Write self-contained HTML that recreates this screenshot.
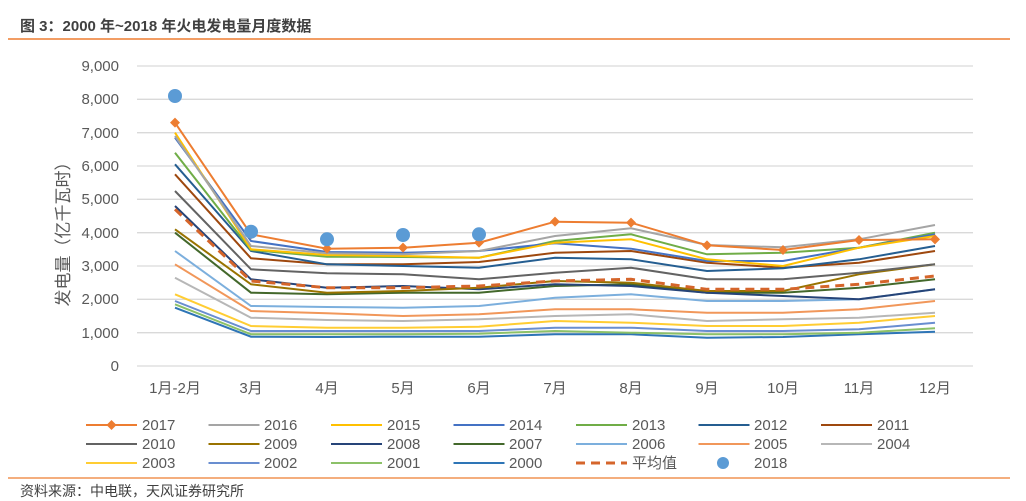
<!DOCTYPE html>
<html><head><meta charset="utf-8"><style>
body{margin:0;background:#fff;}
svg{display:block;font-family:"Liberation Sans","Noto Sans CJK SC",sans-serif;}
</style></head><body>
<svg id="s" width="1026" height="501" viewBox="0 0 1026 501">
<text x="20" y="31" font-size="15" font-weight="bold" fill="#404040">图 3：2000 年~2018 年火电发电量月度数据</text>
<line x1="8" y1="39" x2="1010" y2="39" stroke="#ED7D31" stroke-width="1.5"/>
<g stroke="#D9D9D9" stroke-width="1.3">
<line x1="137" x2="973" y1="66" y2="66"/><line x1="137" x2="973" y1="99.3" y2="99.3"/><line x1="137" x2="973" y1="132.7" y2="132.7"/><line x1="137" x2="973" y1="166" y2="166"/><line x1="137" x2="973" y1="199.3" y2="199.3"/><line x1="137" x2="973" y1="232.7" y2="232.7"/><line x1="137" x2="973" y1="266" y2="266"/><line x1="137" x2="973" y1="299.3" y2="299.3"/><line x1="137" x2="973" y1="332.7" y2="332.7"/><line x1="137" x2="973" y1="366" y2="366"/>
</g>
<g font-size="15" fill="#595959" text-anchor="end">
<text x="119" y="71">9,000</text><text x="119" y="104">8,000</text><text x="119" y="138">7,000</text><text x="119" y="171">6,000</text><text x="119" y="204">5,000</text><text x="119" y="238">4,000</text><text x="119" y="271">3,000</text><text x="119" y="304">2,000</text><text x="119" y="338">1,000</text><text x="119" y="371">0</text>
</g>
<g font-size="15" fill="#595959" text-anchor="middle">
<text x="175" y="393">1月-2月</text><text x="251" y="393">3月</text><text x="327" y="393">4月</text><text x="403" y="393">5月</text><text x="479" y="393">6月</text><text x="555" y="393">7月</text><text x="631" y="393">8月</text><text x="707" y="393">9月</text><text x="783" y="393">10月</text><text x="859" y="393">11月</text><text x="935" y="393">12月</text>
</g>
<text transform="translate(69,230) rotate(-90)" font-size="17" fill="#595959" text-anchor="middle">发电量（亿千瓦时）</text>
<g id="series" fill="none" stroke-width="2"></g>
<g font-size="15" fill="#595959">
<text x="142" y="430">2017</text><text x="264" y="430">2016</text><text x="387" y="430">2015</text><text x="509" y="430">2014</text><text x="632" y="430">2013</text><text x="754" y="430">2012</text><text x="877" y="430">2011</text>
<text x="142" y="449">2010</text><text x="264" y="449">2009</text><text x="387" y="449">2008</text><text x="509" y="449">2007</text><text x="632" y="449">2006</text><text x="754" y="449">2005</text><text x="877" y="449">2004</text>
<text x="142" y="468">2003</text><text x="264" y="468">2002</text><text x="387" y="468">2001</text><text x="509" y="468">2000</text><text x="632" y="468">平均值</text><text x="754" y="468">2018</text>
</g>
<g id="leg" stroke-width="2"></g>
<line x1="8" y1="478" x2="1010" y2="478" stroke="#ED7D31" stroke-width="1.2"/>
<text x="20" y="496" font-size="14" fill="#404040">资料来源：中电联，天风证券研究所</text>
</svg>
<script>
var X=[175,251,327,403,479,555,631,707,783,859,935];
function Y(v){return 366-v/1000*33.333;}
var S=[
["#2E75B6",[1750,880,870,880,880,950,950,850,870,950,1030]],
["#8CC168",[1850,950,950,950,970,1050,1000,950,950,1000,1130]],
["#698ED0",[1950,1050,1050,1050,1050,1150,1150,1050,1050,1100,1300]],
["#FFCD33",[2150,1200,1150,1150,1180,1350,1300,1200,1200,1300,1500]],
["#B7B7B7",[2650,1450,1380,1350,1400,1500,1550,1350,1400,1450,1600]],
["#F1975A",[3050,1650,1580,1500,1550,1700,1700,1600,1600,1700,1950]],
["#7CAFDD",[3450,1800,1770,1750,1800,2050,2150,1950,1950,2000,2300]],
["#43682B",[4000,2200,2150,2200,2200,2400,2450,2200,2200,2350,2600]],
["#264478",[4800,2600,2350,2400,2300,2450,2400,2200,2100,2000,2300]],
["#997300",[4100,2450,2200,2250,2350,2550,2500,2250,2250,2750,3050]],
["#636363",[5250,2900,2780,2750,2600,2800,2950,2600,2600,2800,3050]],
["#9E480E",[5750,3230,3050,3050,3120,3400,3450,3100,2950,3100,3450]],
["#255E91",[6050,3450,3050,3000,2950,3250,3200,2850,2930,3200,3600]],
["#70AD47",[6400,3480,3280,3270,3250,3750,3950,3350,3400,3550,4000]],
["#4472C4",[6850,3750,3420,3400,3450,3680,3520,3150,3150,3550,3950]],
["#FFC000",[7000,3500,3330,3300,3250,3700,3800,3200,3000,3550,3900]],
["#A5A5A5",[6900,3600,3380,3350,3450,3900,4130,3630,3560,3800,4230]],
["#ED7D31",[7300,3950,3520,3550,3700,4330,4300,3620,3480,3780,3800]]
];
var h="";
S.forEach(function(s){h+='<polyline stroke="'+s[0]+'" points="'+s[1].map(function(v,i){return X[i]+','+Y(v).toFixed(1)}).join(' ')+'"/>';});
var avg=[4700,2550,2350,2350,2400,2550,2600,2300,2300,2450,2700];
h+='<polyline stroke="#D5652B" stroke-width="3" stroke-dasharray="9,6" points="'+avg.map(function(v,i){return X[i]+','+Y(v).toFixed(1)}).join(' ')+'"/>';
S[17][1].forEach(function(v,i){var y=Y(v);h+='<polygon fill="#ED7D31" stroke="none" points="'+X[i]+','+(y-5)+' '+(X[i]+5)+','+y+' '+X[i]+','+(y+5)+' '+(X[i]-5)+','+y+'"/>';});
[8100,4030,3800,3930,3950].forEach(function(v,i){h+='<circle fill="#5B9BD5" stroke="none" cx="'+X[i]+'" cy="'+Y(v).toFixed(1)+'" r="7"/>';});
document.getElementById('series').innerHTML=h;
var L=[["#ED7D31","#A5A5A5","#FFC000","#4472C4","#70AD47","#255E91","#9E480E"],
["#636363","#997300","#264478","#43682B","#7CAFDD","#F1975A","#B7B7B7"],
["#FFCD33","#698ED0","#8CC168","#2E75B6"]];
var g="";
L.forEach(function(r,ri){var y=425+ri*19;r.forEach(function(c,ci){var x=86+ci*122.5;g+='<line x1="'+x+'" x2="'+(x+51)+'" y1="'+y+'" y2="'+y+'" stroke="'+c+'"/>';});});
g+='<polygon fill="#ED7D31" points="111.5,420 116.5,425 111.5,430 106.5,425"/>';
g+='<line x1="576" x2="627" y1="463" y2="463" stroke="#D5652B" stroke-width="3" stroke-dasharray="9,6"/>';
g+='<circle cx="723" cy="463" r="6" fill="#5B9BD5"/>';
document.getElementById('leg').innerHTML=g;
</script>
</body></html>
